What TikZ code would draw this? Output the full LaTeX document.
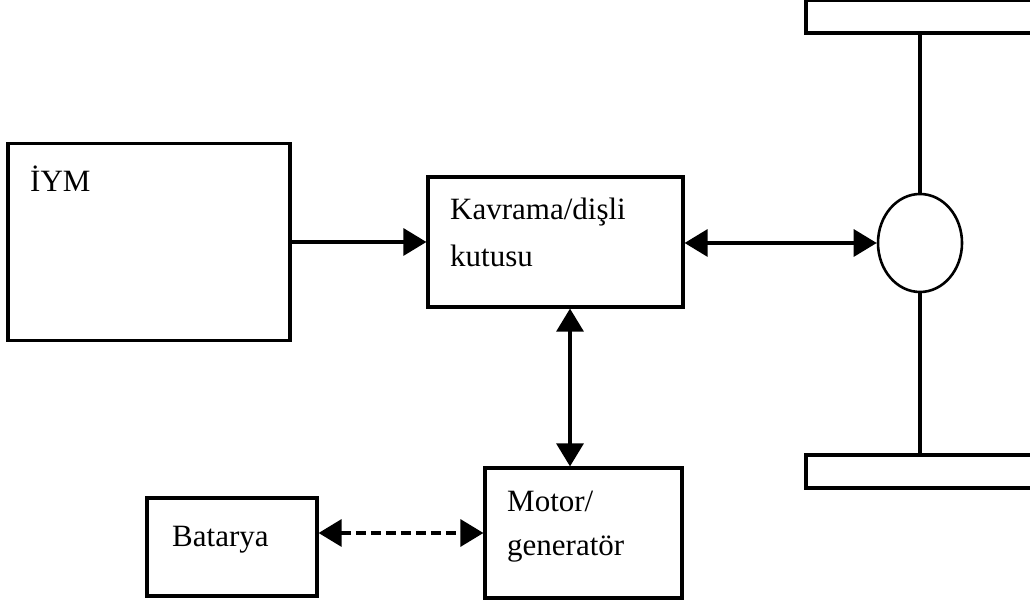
\documentclass[tikz,border=0pt]{standalone}
\usepackage{fontspec}
\setmainfont{Liberation Serif}
\usetikzlibrary{arrows.meta,shapes.geometric}

\begin{document}
\begin{tikzpicture}[x=1pt, y=1pt,
    blok/.style={draw, line width=3.2pt, rectangle, inner sep=0pt},
    yazi/.style={anchor=base west, inner sep=0pt, font=\fontsize{31}{31}\selectfont},
    ok/.style={line width=3.2pt, -{Triangle[length=23pt,width=27pt]}},
    ciftok/.style={line width=3.2pt, {Triangle[length=23pt,width=27pt]}-{Triangle[length=23pt,width=27pt]}}]
  \useasboundingbox (0,0) rectangle (1030,604);
  \fill[white] (0,0) rectangle (1030,604);

  % kutular
  \node[blok, minimum width=282pt, minimum height=197pt] (iym) at (149,362) {};
  \node[blok, minimum width=255pt, minimum height=130pt] (kavrama) at (555.5,362) {};
  \node[blok, minimum width=197pt, minimum height=130pt] (motor) at (583.5,71) {};
  \node[blok, minimum width=170pt, minimum height=98pt] (batarya) at (232,57) {};

  % tekerlek ve aks
  \node[draw, ellipse, line width=2.6pt, minimum width=84pt, minimum height=98pt, inner sep=0pt] (tekerlek) at (920,361) {};
  \node[blok, minimum width=240pt, minimum height=33pt] (ustteker) at (926,587.5) {};
  \node[blok, minimum width=240pt, minimum height=33pt] (altteker) at (926,132.5) {};
  \draw[line width=3.2pt] (ustteker.south -| tekerlek.north) -- (tekerlek.north);
  \draw[line width=3.2pt] (tekerlek.south) -- (altteker.north -| tekerlek.south);

  % yazilar
  \node[yazi] (iymyazi) at (30,412) {İYM};
  \node[yazi] (kavyazi1) at (450,384) {Kavrama/dişli};
  \node[yazi] (kavyazi2) at (450,337) {kutusu};
  \node[yazi] (motyazi1) at (507,92) {Motor/};
  \node[yazi] (motyazi2) at (507,48) {generatör};
  \node[yazi] (batyazi) at (172,57) {Batarya};

  % baglantilar
  \coordinate (eksen) at (570,0);
  \draw[ok] (iym.east |- kavrama.west) -- (kavrama.west);
  \draw[ciftok] (kavrama.east |- tekerlek.west) -- (tekerlek.west);
  \draw[ciftok] (kavrama.south -| eksen) -- (motor.north -| eksen);
  \draw[ciftok, dash pattern=on 10pt off 5pt] (batarya.east |- motor.west) -- (motor.west);
\end{tikzpicture}
\end{document}
